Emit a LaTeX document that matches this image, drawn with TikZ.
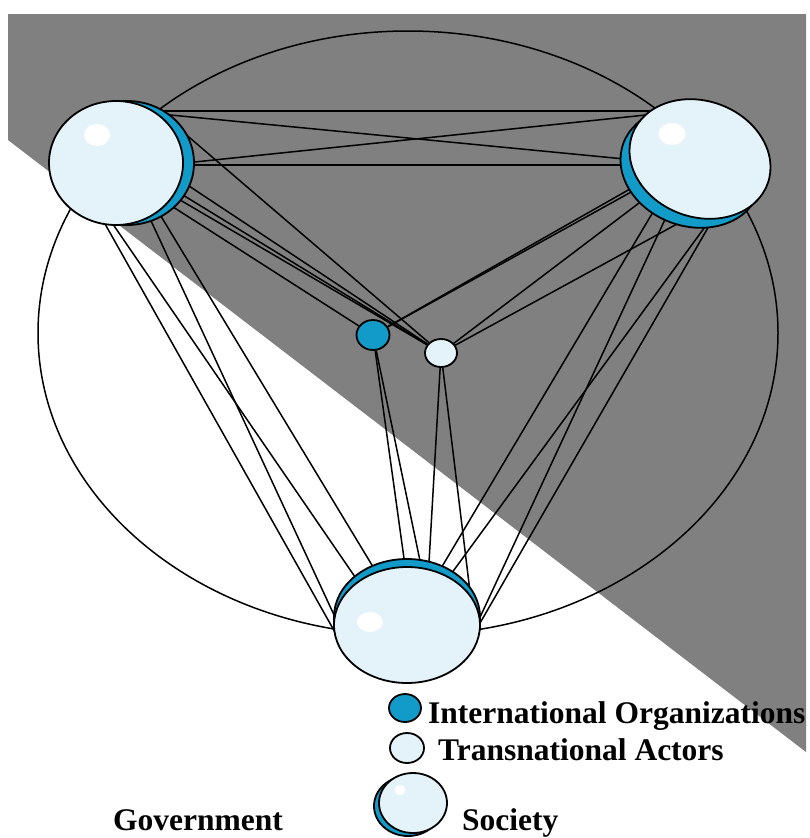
\documentclass[tikz,border=0pt]{standalone}
\usepackage{fontspec}
\setmainfont{Liberation Serif}
\usetikzlibrary{shapes.geometric}
\definecolor{bggray}{RGB}{128,128,128}
\definecolor{discfill}{RGB}{227,243,249}
\definecolor{govblue}{RGB}{18,155,200}
\pgfdeclarelayer{bg}
\pgfsetlayers{bg,main}
\tikzset{
  link/.style={draw=black, line width=1.5pt},
  discface/.style={ellipse, draw=black, line width=1.8pt, fill=discfill, inner sep=0pt},
  discback/.style={ellipse, draw=black, line width=1.8pt, fill=govblue, inner sep=0pt},
  shine/.style={ellipse, fill=white, draw=none, inner sep=0pt},
  legtext/.style={anchor=base west, inner sep=0pt, font=\bfseries\fontsize{31.5}{36}\selectfont},
}
\begin{document}
\begin{tikzpicture}[x=1pt,y=-1pt]
\useasboundingbox (0,0) rectangle (809,838);

% big discs (society + government)
\node[discback, minimum width=134pt, minimum height=124pt] (tlback) at (127,163) {};
\node[discface, minimum width=134pt, minimum height=124pt] (tl) at (116,163) {};
\node[shine, minimum width=26pt, minimum height=22pt] (tlshine) at (97,135) {};

\node[discback, minimum width=144pt, minimum height=116pt, rotate=-20] (trback) at (691,168) {};
\node[discface, minimum width=144pt, minimum height=116pt, rotate=-20] (tr) at (700,159) {};
\node[shine, minimum width=27pt, minimum height=22pt] (trshine) at (672,134) {};

\node[discback, minimum width=146pt, minimum height=116pt] (bback) at (407,617) {};
\node[discface, minimum width=146pt, minimum height=116pt] (bt) at (407,625) {};
\node[shine, minimum width=26pt, minimum height=20pt] (bshine) at (370,622) {};

% small actors
\node[ellipse, draw=black, line width=1.8pt, fill=govblue, minimum width=33pt, minimum height=30pt, inner sep=0pt] (io) at (373,335) {};
\node[ellipse, draw=black, line width=1.8pt, fill=discfill, minimum width=32pt, minimum height=28pt, inner sep=0pt] (ta) at (441,353) {};

% legend
\node[ellipse, draw=black, line width=1.8pt, fill=govblue, minimum width=32pt, minimum height=28pt, inner sep=0pt] (lio) at (405,708) {};
\node[ellipse, draw=black, line width=1.8pt, fill=discfill, minimum width=34pt, minimum height=30pt, inner sep=0pt] (lta) at (407,748) {};
\node[discback, minimum width=68pt, minimum height=60pt] (lsback) at (408,806) {};
\node[discface, minimum width=68pt, minimum height=60pt] (ls) at (413,803) {};
\node[shine, minimum width=11pt, minimum height=10pt] (lsshine) at (400,790) {};

\node[legtext] (tio) at (428,723) {International Organizations};
\node[legtext] (tta) at (438,760) {Transnational Actors};
\node[legtext] (tgov) at (113,830) {Government};
\node[legtext] (tsoc) at (462,830) {Society};

% connector end points inside the big discs
\coordinate (a1) at (150,111); \coordinate (b1) at (665,111);
\coordinate (a2) at (160,114); \coordinate (b2) at (635,160);
\coordinate (a3) at (185,163); \coordinate (b3) at (665,113);
\coordinate (a4) at (185,165); \coordinate (b4) at (635,165);
\coordinate (c1) at (183,132); \coordinate (c2) at (183,182);
\coordinate (c3) at (178,192); \coordinate (c4) at (175,197);
\coordinate (c5) at (170,205);
\coordinate (d1) at (637,185); \coordinate (d2) at (633,191);
\coordinate (d3) at (643,200); \coordinate (d4) at (688,218);
\coordinate (e1) at (100,215); \coordinate (f1) at (345,650);
\coordinate (e2) at (108,217); \coordinate (f2) at (364,590);
\coordinate (e3) at (146,210); \coordinate (f3) at (341,630);
\coordinate (e4) at (156,208); \coordinate (f4) at (381,580);
\coordinate (g1) at (656,207); \coordinate (h1) at (434,580);
\coordinate (g2) at (668,213); \coordinate (h2) at (475,628);
\coordinate (g3) at (710,220); \coordinate (h3) at (443,585);
\coordinate (g4) at (713,219); \coordinate (h4) at (476,630);
\coordinate (k1) at (407,580); \coordinate (k2) at (424,580);
\coordinate (k3) at (428,580); \coordinate (k4) at (471,600);

\begin{pgfonlayer}{bg}
  \fill[bggray] (8,14) -- (806,14) -- (806,752) -- (8,140) -- cycle;
  \draw[line width=1.5pt] (408,333) ellipse [x radius=370pt, y radius=302pt];
  % government to government
  \draw[link] (a1) -- (b1);
  \draw[link] (a2) -- (b2);
  \draw[link] (a3) -- (b3);
  \draw[link] (a4) -- (b4);
  % to transnational actors / organizations
  \draw[link] (c1) -- (ta);
  \draw[link] (c2) -- (ta);
  \draw[link] (c3) -- (ta);
  \draw[link] (c4) -- (ta);
  \draw[link] (c5) -- (io);
  \draw[link] (d1) -- (io);
  \draw[link] (d2) -- (io);
  \draw[link] (d3) -- (ta);
  \draw[link] (d4) -- (ta);
  % to the bottom disc
  \draw[link] (e1) -- (f1);
  \draw[link] (e2) -- (f2);
  \draw[link] (e3) -- (f3);
  \draw[link] (e4) -- (f4);
  \draw[link] (g1) -- (h1);
  \draw[link] (g2) -- (h2);
  \draw[link] (g3) -- (h3);
  \draw[link] (g4) -- (h4);
  \draw[link] (io) -- (k1);
  \draw[link] (io) -- (k2);
  \draw[link] (ta) -- (k3);
  \draw[link] (ta) -- (k4);
\end{pgfonlayer}
\end{tikzpicture}
\end{document}
